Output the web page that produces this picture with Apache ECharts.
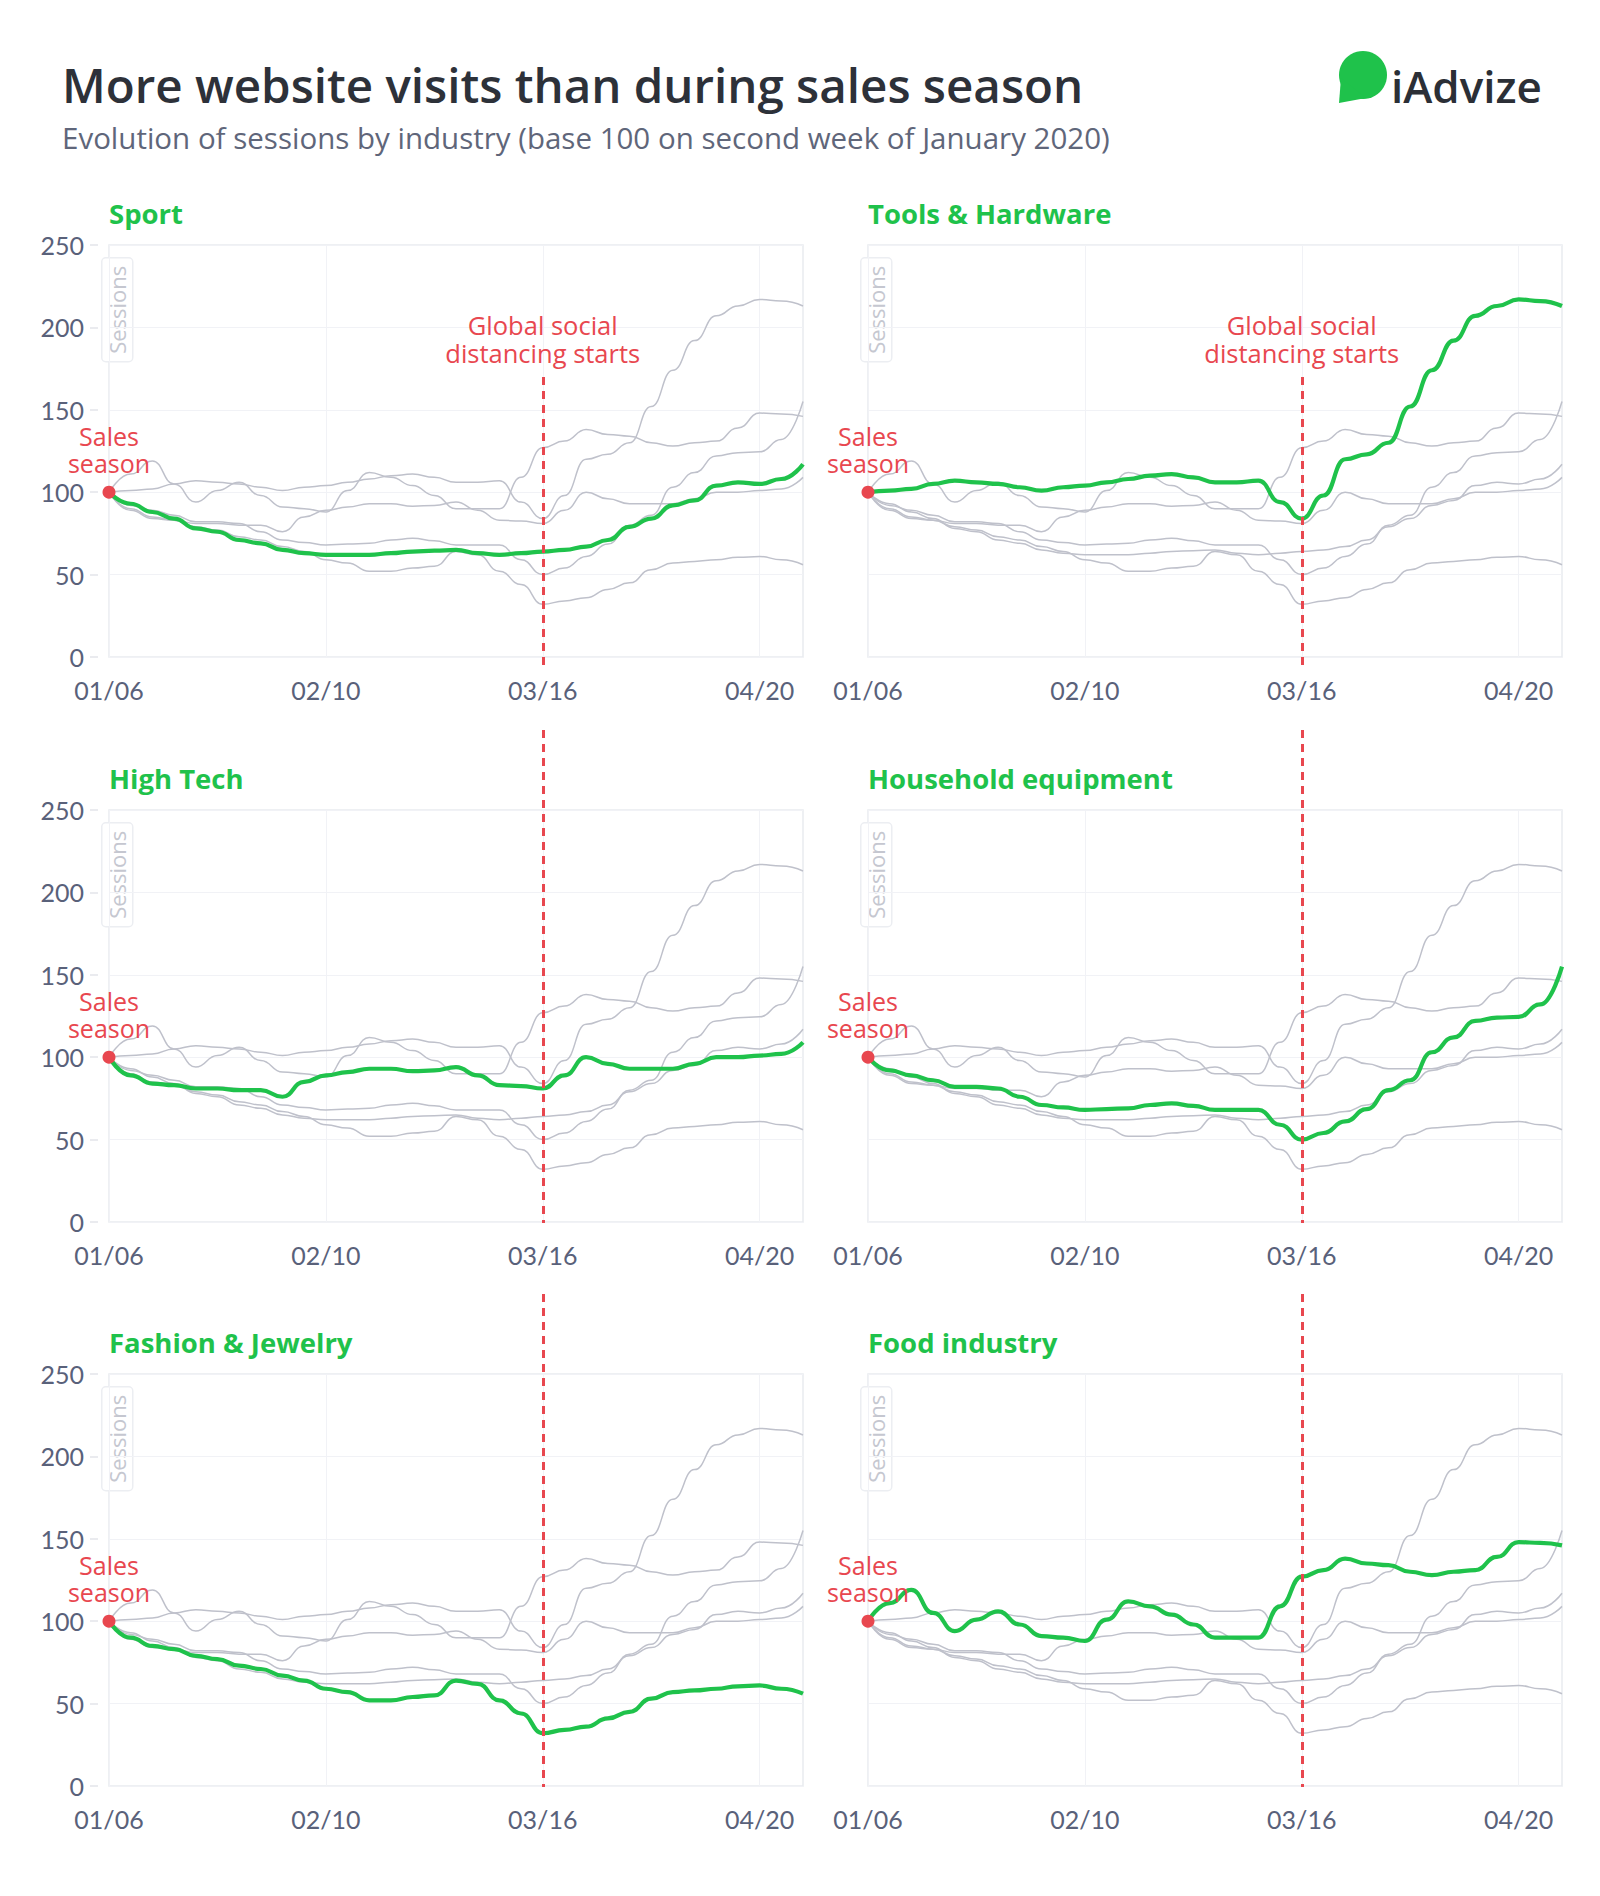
<!DOCTYPE html>
<html>
<head>
<meta charset="utf-8">
<script src="https://cdn.jsdelivr.net/npm/echarts@6/dist/echarts.min.js"></script>
<style>
html,body{margin:0;padding:0;background:#fff;}
#chart{width:1600px;height:1896px;}
</style>
</head>
<body>
<div id="chart"></div>
<script>
// ---- Data ----
const dates = ['01/06','01/09','01/13','01/16','01/20','01/23','01/27','01/30','02/03','02/06',
  '02/10','02/13','02/17','02/20','02/24','02/27','03/02','03/05','03/09','03/12',
  '03/16','03/19','03/23','03/26','03/30','04/02','04/06','04/09','04/13','04/16',
  '04/20','04/23','04/27'];
const xTickLabels = ['01/06','02/10','03/16','04/20'];
const yTicks = [0, 50, 100, 150, 200, 250];

const industries = ['Sport','Tools & Hardware','High Tech','Household equipment','Fashion & Jewelry','Food industry'];

const sport     = [100,93,88,84,78,76,71,69,65,63,62,62,62,63,64,64.5,65,63,62,63,64,65,67,71,79,84,92,95,104,106,105,108,117];
const tools     = [100,101,102,105,107,106,105,103,101,103,104,106,108,110,111,109,106,106,107,94,84,98,120,123,130,152,174,192,207,213,217,216,213];
const highTech  = [100,89,84,83,81,81,80,80,76,85,89,91,93,93,91.5,92,94,89,83,82.5,81,89,100,96,93,93,93,96,100,100,101,102,109];
const household = [100,92,89,86,82,82,81,76,71,69.5,68,68.5,69,71,72,70.5,68,68,68,59,50,54,61,68.5,80,86,103,112,122,124,124.5,132,155];
const fashion   = [100,90,85,83,79,77,73,71,67,64,59,57,52,52,54,55,64,62,52,44,32,34,36,41,45,53,57,58,59,60.5,61,59,56];
const food      = [100,111,119,105,94,101,106,98,91,90,88,101,112,109,104,98,90,90,90,109,127,131,138,135,134,130,128,130,131,139,148,147.5,146];

const seriesValues = [sport, tools, highTech, household, fashion, food];

const salesSeasonDate = '01/06';
const salesSeasonValue = 100;
const distancingDate = '03/16';

// ---- Styles / layout ----
const GREEN = '#1fc24b';
const GRAY = '#bfc1cb';
const RED = '#e8474f';
const LABEL = '#59617a';
const FONT = '"Open Sans", Lato, sans-serif';
const NUMFONT = 'Lato, "Open Sans", sans-serif';

const colLeft = [109, 868];
const rowTop = [245, 810, 1374];
const GW = 694, GH = 412;

const chart = echarts.init(document.getElementById('chart'), null, {renderer: 'svg', width: 1600, height: 1896});

const grids = [], xAxes = [], yAxes = [], series = [], titles = [], graphics = [];

titles.push({
  text: 'More website visits than during sales season',
  left: 62, top: 60, padding: 0,
  textStyle: {fontFamily: FONT, fontSize: 47.5, fontWeight: 600, color: '#2d3139', lineHeight: 48}
});
titles.push({
  text: 'Evolution of sessions by industry (base 100 on second week of January 2020)',
  left: 62, top: 122, padding: 0,
  textStyle: {fontFamily: FONT, fontSize: 29.5, fontWeight: 'normal', color: '#5f667a', lineHeight: 30}
});

industries.forEach((name, i) => {
  const col = i % 2, row = Math.floor(i / 2);
  const left = colLeft[col], top = rowTop[row];
  grids.push({left: left, top: top, width: GW, height: GH, show: true,
    borderColor: '#e9ebf0', borderWidth: 1.5, backgroundColor: 'rgba(0,0,0,0)'});
  titles.push({
    text: name, left: left, top: top - 46, padding: 0,
    textStyle: {fontFamily: FONT, fontSize: 27.5, fontWeight: 'bold', color: GREEN, lineHeight: 28}
  });
  xAxes.push({
    type: 'category', gridIndex: i, data: dates, boundaryGap: false,
    axisLine: {show: false}, axisTick: {show: false},
    axisLabel: {interval: 9, fontFamily: NUMFONT, fontSize: 25, color: LABEL, margin: 20,
      formatter: v => (xTickLabels.indexOf(v) >= 0 ? v : '')},
    splitLine: {show: true, interval: 9, lineStyle: {color: '#f1f2f6', width: 1}}
  });
  yAxes.push({
    type: 'value', gridIndex: i, min: yTicks[0], max: yTicks[yTicks.length - 1], interval: 50,
    offset: col === 0 ? 11 : 0,
    axisLine: {show: false},
    axisTick: {show: col === 0, length: 8, lineStyle: {color: '#e3e5ea', width: 1.5}},
    axisLabel: {show: col === 0, fontFamily: NUMFONT, fontSize: 25, color: LABEL, margin: 14},
    splitLine: {show: true, lineStyle: {color: '#f1f2f6', width: 1}}
  });

  seriesValues.forEach((vals, j) => {
    const hi = (j === i);
    const s = {
      type: 'line', name: industries[j], xAxisIndex: i, yAxisIndex: i, data: vals,
      smooth: 0.5, smoothMonotone: 'x', symbol: 'none', silent: true, clip: !hi,
      lineStyle: {color: hi ? GREEN : GRAY, width: hi ? 4.2 : 1.5},
      z: hi ? 4 : 2, animation: false
    };
    if (hi) {
      const lineTop = row === 0 ? 377 : top - 80;
      const lineBottom = row === 0 ? top + GH + 10 : top + GH + 1;
      s.markLine = {
        silent: true, symbol: ['none', 'none'], animation: false,
        lineStyle: {color: RED, width: 3, type: [8, 6]},
        label: row === 0 ? {
          show: true, position: 'start', distance: 10,
          formatter: 'Global social\ndistancing starts',
          fontFamily: FONT, fontSize: 25.5, lineHeight: 28, color: RED
        } : {show: false},
        data: [[{xAxis: distancingDate, y: lineTop}, {xAxis: distancingDate, y: lineBottom}]]
      };
      s.markPoint = {
        silent: true, symbol: 'circle', symbolSize: 13, animation: false,
        itemStyle: {color: RED},
        label: {show: true, position: 'top', distance: 9, formatter: 'Sales\nseason',
          fontFamily: FONT, fontSize: 25, lineHeight: 27, color: RED},
        data: [{coord: [salesSeasonDate, salesSeasonValue]}]
      };
    }
    series.push(s);
  });

  // "Sessions" axis name box
  graphics.push({
    type: 'group', left: left - 8, top: top + 12, z: 10,
    children: [
      {type: 'rect', shape: {x: 0, y: 0, width: 31, height: 104, r: 4},
        style: {fill: '#fff', stroke: '#eceef2', lineWidth: 1.5}},
      {type: 'text', x: 15.5, y: 52, rotation: Math.PI / 2,
        style: {text: 'Sessions', fontFamily: FONT, fontSize: 22, fill: '#c5c7d0',
          align: 'center', verticalAlign: 'middle'}}
    ]
  });
});

// iAdvize logo
graphics.push({type: 'circle', shape: {cx: 1363, cy: 75, r: 24}, style: {fill: GREEN}, z: 10});
graphics.push({type: 'polygon', shape: {points: [[1341, 78], [1339, 103], [1366, 98]]}, style: {fill: GREEN}, z: 10});
graphics.push({type: 'text', x: 1391, y: 86, z: 10,
  style: {text: 'iAdvize', fontFamily: FONT, fontSize: 44, fontWeight: 600, fill: '#2b2f36',
    align: 'left', verticalAlign: 'middle'}});

chart.setOption({
  animation: false,
  backgroundColor: '#fff',
  title: titles,
  grid: grids,
  xAxis: xAxes,
  yAxis: yAxes,
  series: series,
  graphic: graphics
});
</script>
</body>
</html>
